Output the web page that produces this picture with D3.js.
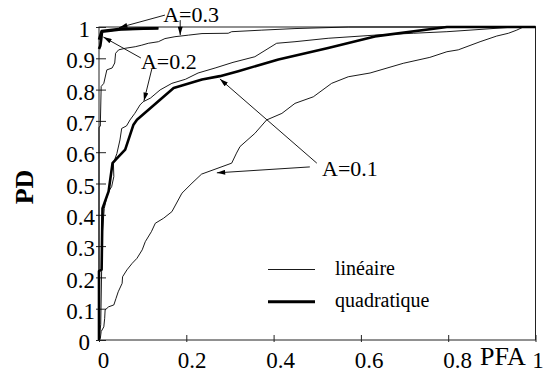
<!DOCTYPE html>
<html>
<head>
<meta charset="utf-8">
<script src="https://cdn.jsdelivr.net/npm/d3@7"></script>
<style>
  body { margin: 0; background: #fff; }
  svg { display: block; }
  text { font-family: "Liberation Serif", "Times New Roman", Times, serif; }
  .tick line { stroke: #222; }
</style>
</head>
<body>
<svg id="chart" width="552" height="376"></svg>
<script>
// ROC curves, [PFA, PD] pairs
const linA01 = [[0,0],[0.003,0.005],[0.005,0.027],[0.011,0.042],[0.013,0.069],[0.014,0.096],[0.022,0.106],[0.034,0.112],[0.039,0.133],[0.044,0.154],[0.053,0.181],[0.054,0.202],[0.064,0.224],[0.076,0.245],[0.087,0.261],[0.099,0.288],[0.106,0.314],[0.12,0.346],[0.129,0.373],[0.148,0.389],[0.167,0.41],[0.19,0.469],[0.213,0.501],[0.235,0.53],[0.304,0.565],[0.315,0.597],[0.323,0.618],[0.357,0.66],[0.384,0.703],[0.419,0.724],[0.449,0.756],[0.491,0.777],[0.533,0.82],[0.571,0.841],[0.621,0.853],[0.697,0.884],[0.758,0.903],[0.797,0.921],[0.823,0.927],[0.873,0.953],[0.911,0.971],[0.938,0.98],[0.957,0.99],[0.972,1],[1,1]];
const linA02 = [[0,0],[0.004,0.05],[0.006,0.22],[0.007,0.33],[0.012,0.42],[0.02,0.47],[0.029,0.49],[0.034,0.522],[0.033,0.565],[0.041,0.596],[0.048,0.639],[0.052,0.676],[0.063,0.684],[0.071,0.703],[0.082,0.724],[0.094,0.751],[0.101,0.761],[0.118,0.773],[0.14,0.799],[0.167,0.82],[0.198,0.833],[0.227,0.853],[0.266,0.869],[0.307,0.887],[0.357,0.905],[0.407,0.948],[0.449,0.953],[0.525,0.964],[0.632,0.974],[0.72,0.98],[0.797,0.985],[0.85,0.99],[0.942,0.999],[1,1]];
const linA03 = [[0,0],[0,0.68],[0.003,0.683],[0.005,0.81],[0.011,0.82],[0.018,0.863],[0.03,0.869],[0.036,0.885],[0.038,0.916],[0.045,0.927],[0.06,0.932],[0.083,0.937],[0.098,0.942],[0.113,0.948],[0.136,0.953],[0.151,0.963],[0.174,0.969],[0.205,0.974],[0.236,0.979],[0.296,0.98],[0.304,0.985],[0.373,0.99],[0.449,0.995],[0.571,1],[1,1]];
const quadA01 = [[0,0],[0,0.22],[0.006,0.225],[0.008,0.42],[0.022,0.475],[0.031,0.565],[0.041,0.58],[0.06,0.608],[0.079,0.688],[0.087,0.704],[0.171,0.805],[0.236,0.832],[0.277,0.843],[0.319,0.859],[0.411,0.896],[0.525,0.933],[0.632,0.97],[0.797,1],[1,1]];
// the A=0.2 and A=0.3 quadratic curves only show near the top-left corner
const quadA02 = [[0,0.93],[0.003,0.94],[0.005,0.96],[0.007,0.985],[0.05,0.992],[0.136,0.996]];
const quadA03 = [[0,0.96],[0.006,0.987],[0.05,0.994],[0.136,0.996]];

const xTicks = [0, 0.2, 0.4, 0.6, 0.8, 1];
const yTicks = [0, 0.1, 0.2, 0.3, 0.4, 0.5, 0.6, 0.7, 0.8, 0.9, 1];
const legendLabels = ['linéaire', 'quadratique'];

// annotation text position and arrow [from, to] in data units
const annotations = [
  { label: 'A=0.3', at: [0.147, 1.017], arrows: [[[0.151, 1.038], [0.046, 0.998]], [[0.186, 1.022], [0.186, 0.974]]] },
  { label: 'A=0.2', at: [0.096, 0.866], arrows: [[[0.096, 0.901], [0.01, 0.968]], [[0.121, 0.866], [0.103, 0.764]]] },
  { label: 'A=0.1', at: [0.511, 0.524], arrows: [[[0.499, 0.565], [0.277, 0.834]], [[0.483, 0.553], [0.27, 0.534]]] },
];

const serif = '"Liberation Serif", "Times New Roman", serif';
const svg = d3.select('#chart');
const x = d3.scaleLinear().domain([0, 1]).range([99, 535.5]);
const y = d3.scaleLinear().domain([0, 1]).range([340, 27]);

svg.append('defs').append('marker')
  .attr('id', 'head')
  .attr('viewBox', '0 0 10 6')
  .attr('refX', 10).attr('refY', 3)
  .attr('markerWidth', 9).attr('markerHeight', 5)
  .attr('markerUnits', 'userSpaceOnUse')
  .attr('orient', 'auto')
  .append('path').attr('d', 'M0,0L10,3L0,6Z').attr('fill', '#000');

// frame
svg.append('rect')
  .attr('x', x(0)).attr('y', y(1))
  .attr('width', x(1) - x(0)).attr('height', y(0) - y(1))
  .attr('fill', 'none').attr('stroke', '#222').attr('stroke-width', 1);

const fmt = (d) => (d === 0 || d === 1 ? d3.format('d')(d) : d3.format('.1f')(d));

const xAxis = svg.append('g')
  .attr('transform', `translate(0,${y(0)})`)
  .call(d3.axisBottom(x).tickValues(xTicks).tickSize(-5).tickPadding(12).tickFormat(fmt))
  .attr('font-family', serif).attr('font-size', 23);
xAxis.select('.domain').remove();
// labels sit a little right of their ticks in the original
xAxis.selectAll('text').attr('font-family', serif).attr('font-size', 23).attr('fill', '#000')
  .attr('dx', (d) => (d === 1 ? 2 : 4 + 6 * d));
xAxis.selectAll('.tick').append('line').attr('y2', 2).attr('stroke', '#222');

const yAxis = svg.append('g')
  .attr('transform', `translate(${x(0)},0)`)
  .call(d3.axisLeft(y).tickValues(yTicks).tickSize(-7).tickPadding(4).tickFormat(fmt))
  .attr('font-family', serif).attr('font-size', 23);
yAxis.select('.domain').remove();
yAxis.selectAll('text').attr('font-family', serif).attr('font-size', 23).attr('fill', '#000').attr('dy', '0.42em')
  .attr('x', (d) => (d === 0 || d === 1 ? -9 : -4));
yAxis.selectAll('.tick').append('line').attr('x2', -3).attr('stroke', '#222');

const line = d3.line().x((d) => x(d[0])).y((d) => y(d[1]));

const thin = [linA01, linA02, linA03];
const thick = [quadA01, quadA02, quadA03];

svg.append('g').selectAll('path')
  .data(thin).join('path')
  .attr('d', line).attr('fill', 'none').attr('stroke', '#000').attr('stroke-width', 0.9);

svg.append('g').selectAll('path')
  .data(thick).join('path')
  .attr('d', line).attr('fill', 'none').attr('stroke', '#000').attr('stroke-width', 2.6)
  .attr('stroke-linejoin', 'round');

// annotations
const ann = svg.append('g').selectAll('g').data(annotations).join('g');
ann.append('text')
  .attr('x', (d) => x(d.at[0])).attr('y', (d) => y(d.at[1]))
  .attr('font-family', serif).attr('font-size', 22).text((d) => d.label);
ann.selectAll('line').data((d) => d.arrows).join('line')
  .attr('x1', (d) => x(d[0][0])).attr('y1', (d) => y(d[0][1]))
  .attr('x2', (d) => x(d[1][0])).attr('y2', (d) => y(d[1][1]))
  .attr('stroke', '#000').attr('stroke-width', 0.9)
  .attr('marker-end', 'url(#head)');

// legend
const legend = svg.append('g').selectAll('g').data(legendLabels).join('g')
  .attr('transform', (d, i) => `translate(268,${269.5 + i * 32.3})`);
legend.append('line').attr('x2', 47).attr('stroke', '#000')
  .attr('stroke-width', (d, i) => (i === 0 ? 0.9 : 3));
legend.append('text').attr('x', 67).attr('y', 5)
  .attr('font-family', serif).attr('font-size', 20).text((d) => d);

svg.append('text').attr('x', 480).attr('y', 365)
  .attr('font-family', serif).attr('font-size', 26).text('PFA');

svg.append('text')
  .attr('transform', 'translate(33,187) rotate(-90)')
  .attr('text-anchor', 'middle').attr('font-family', serif)
  .attr('font-size', 26).attr('font-weight', 'bold')
  .text('PD');
</script>
</body>
</html>
